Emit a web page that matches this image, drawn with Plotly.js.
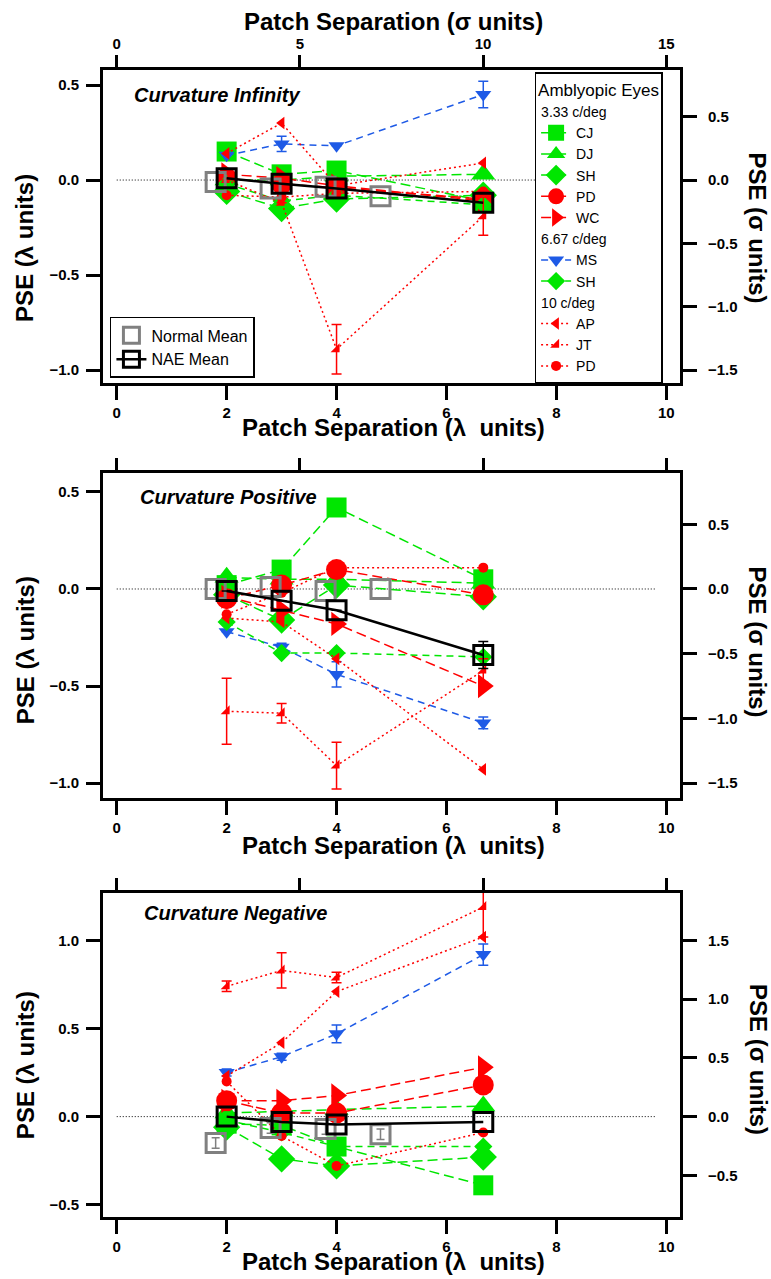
<!DOCTYPE html>
<html><head><meta charset="utf-8">
<script src="https://cdn.plot.ly/plotly-3.0.1.min.js"></script>
<style>body{margin:0;background:#fff}#chart{width:771px;height:1279px}</style>
</head><body><div id="chart"></div>
<script>
// ---------- data (PSE in lambda units) ----------
const X_AE = [2, 3, 4, 6.67];          // amblyopic / NAE patch separations (lambda)
const X_NORM = [1.8, 2.8, 3.8, 4.8];   // normal-observer separations (lambda)
const LAMBDA_TICKS = [0, 2, 4, 6, 8, 10];
const SIGMA_TICKS = [0, 5, 10, 15];
const ZERO_X = [0, 9.8];
const ZERO_Y = [0, 0];
const PANEL_TITLES = ['Curvature Infinity', 'Curvature Positive', 'Curvature Negative'];

// Curvature Infinity
const inf_CJ  = [0.15, 0.03, 0.05, -0.11];
const inf_DJ  = [0.0, 0.0, 0.02, 0.03];
const inf_SH  = [-0.06, -0.15, -0.10, -0.08];
const inf_PD  = [0.01, -0.02, -0.04, -0.10];
const inf_WC  = [0.03, 0.01, -0.03, -0.11];
const inf_MS  = [0.13, 0.19, 0.18, 0.45];
const inf_SH2 = [-0.02, -0.11, -0.08, -0.13];
const inf_AP  = [0.14, 0.30, -0.03, 0.09];
const inf_JT  = [0.0, -0.12, -0.89, -0.19];
const inf_PD2 = [-0.08, -0.09, -0.07, -0.06];
const inf_norm = [-0.01, -0.045, -0.035, -0.085];
const inf_nae  = [0.01, -0.02, -0.045, -0.12];
const inf_MS_err = [0, 0.04, 0, 0.07];
const inf_JT_err = [0, 0, 0.13, 0.1];

// Curvature Positive
const pos_CJ  = [0.02, 0.10, 0.42, 0.05];
const pos_DJ  = [0.06, 0.05, 0.05, 0.03];
const pos_SH  = [-0.03, -0.16, 0.02, -0.04];
const pos_PD  = [-0.05, 0.02, 0.10, -0.03];
const pos_WC  = [-0.04, -0.11, -0.18, -0.50];
const pos_MS  = [-0.22, -0.30, -0.44, -0.69];
const pos_SH2 = [-0.17, -0.33, -0.33, -0.35];
const pos_AP  = [-0.15, -0.17, -0.36, -0.93];
const pos_JT  = [-0.63, -0.64, -0.91, -0.42];
const pos_PD2 = [-0.13, -0.02, 0.11, 0.11];
const pos_norm = [0.0, 0.01, -0.01, 0.0];
const pos_nae  = [-0.01, -0.06, -0.11, -0.34];
const pos_MS_err = [0, 0.02, 0.065, 0.03];
const pos_JT_err = [0.17, 0.05, 0.12, 0.06];
const pos_nae_err = [0, 0, 0, 0.07];

// Curvature Negative
const neg_CJ  = [-0.04, -0.05, -0.17, -0.39];
const neg_DJ  = [0.02, 0.03, 0.04, 0.06];
const neg_SH  = [-0.06, -0.24, -0.28, -0.23];
const neg_PD  = [0.09, 0.02, 0.02, 0.18];
const neg_WC  = [0.09, 0.09, 0.12, 0.28];
const neg_MS  = [0.25, 0.34, 0.47, 0.92];
const neg_SH2 = [-0.02, -0.09, -0.17, -0.17];
const neg_AP  = [0.23, 0.42, 0.71, 1.02];
const neg_JT  = [0.74, 0.83, 0.79, 1.19];
const neg_PD2 = [0.20, -0.11, -0.28, -0.09];
const neg_norm = [-0.15, -0.065, -0.07, -0.10];
const neg_nae  = [0.0, -0.03, -0.045, -0.03];
const neg_MS_err = [0.02, 0.02, 0.05, 0.06];
const neg_JT_err = [0.03, 0.1, 0.03, 0.17];
const neg_norm_err = [0.03, 0.03, 0.03, 0.03];

// ---------- styling ----------
const FONT = 'Liberation Sans, Arial, Helvetica, sans-serif';
const GREEN = '#00e600', RED = '#ff0000', BLUE = '#1e5ae6', GRAY = '#808080';
const D1 = '10px,5px', D2 = '7px,5px', D3 = '2px,3px';
const GROUPS = {g1: '3.33 c/deg', g2: '6.67 c/deg', g3: '10 c/deg'};
const SERIES = [
  {key: 'CJ',  name: 'CJ', grp: 'g1', sym: 'square',         size: 20, color: GREEN, dash: D1},
  {key: 'DJ',  name: 'DJ', grp: 'g1', sym: 'triangle-up',    size: 21, color: GREEN, dash: D1},
  {key: 'SH',  name: 'SH', grp: 'g1', sym: 'diamond',        size: 21, color: GREEN, dash: D1},
  {key: 'PD',  name: 'PD', grp: 'g1', sym: 'circle',         size: 21, color: RED,   dash: D1},
  {key: 'WC',  name: 'WC', grp: 'g1', sym: 'triangle-right', size: 21, color: RED,   dash: D1},
  {key: 'MS',  name: 'MS', grp: 'g2', sym: 'triangle-down',  size: 14, color: BLUE,  dash: D2},
  {key: 'SH2', name: 'SH', grp: 'g2', sym: 'diamond',        size: 14, color: GREEN, dash: D2},
  {key: 'AP',  name: 'AP', grp: 'g3', sym: 'triangle-left',  size: 11, color: RED,   dash: D3},
  {key: 'JT',  name: 'JT', grp: 'g3', sym: 'triangle-se',    size: 10, color: RED,   dash: D3},
  {key: 'PD2', name: 'PD', grp: 'g3', sym: 'circle',         size: 10, color: RED,   dash: D3}
];
const PANEL_DATA = [
  {CJ: inf_CJ, DJ: inf_DJ, SH: inf_SH, PD: inf_PD, WC: inf_WC, MS: inf_MS, SH2: inf_SH2, AP: inf_AP, JT: inf_JT, PD2: inf_PD2,
   norm: inf_norm, nae: inf_nae, err: {MS: inf_MS_err, JT: inf_JT_err}},
  {CJ: pos_CJ, DJ: pos_DJ, SH: pos_SH, PD: pos_PD, WC: pos_WC, MS: pos_MS, SH2: pos_SH2, AP: pos_AP, JT: pos_JT, PD2: pos_PD2,
   norm: pos_norm, nae: pos_nae, err: {MS: pos_MS_err, JT: pos_JT_err, nae: pos_nae_err}},
  {CJ: neg_CJ, DJ: neg_DJ, SH: neg_SH, PD: neg_PD, WC: neg_WC, MS: neg_MS, SH2: neg_SH2, AP: neg_AP, JT: neg_JT, PD2: neg_PD2,
   norm: neg_norm, nae: neg_nae, err: {MS: neg_MS_err, JT: neg_JT_err, norm: neg_norm_err}}
];
const Y_RANGES = [[-1.068, 0.579], [-1.077, 0.598], [-0.57, 1.27]];
const DOMAINS = [[0.7271, 1.0], [0.3653, 0.6487], [0.0, 0.2825]];
const LAMBDA_RANGE = [-0.25, 10.25];
const SIGMA_PER_LAMBDA = 1.5;

const TF = {family: FONT, size: 15, color: '#000', weight: 'bold'};
const layout = {
  width: 771, height: 1279,
  margin: {l: 103, r: 91, t: 70, b: 62},
  paper_bgcolor: '#fff', plot_bgcolor: '#fff',
  font: {family: FONT, color: '#000'},
  showlegend: true,
  legend: {x: 0.012, y: 0.7847, xanchor: 'left', yanchor: 'top', bordercolor: '#000', borderwidth: 1.5,
           bgcolor: '#fff', font: {family: FONT, size: 16, color: '#000'}, itemwidth: 30, tracegroupgap: 0},
  legend2: {x: 0.748, y: 0.998, xanchor: 'left', yanchor: 'top', bordercolor: '#000', borderwidth: 1.5,
            bgcolor: '#fff', font: {family: FONT, size: 14, color: '#000'}, itemwidth: 30, tracegroupgap: 0,
            traceorder: 'grouped', title: {text: 'Amblyopic Eyes', font: {family: FONT, size: 17}}},
  annotations: []
};

const traces = [];
function ids(p) {
  const i = 2 * p + 1;
  return {
    xb: i === 1 ? 'xaxis' : 'xaxis' + i, xt: 'xaxis' + (i + 1),
    yl: i === 1 ? 'yaxis' : 'yaxis' + i, yr: 'yaxis' + (i + 1),
    x: i === 1 ? 'x' : 'x' + i, x2: 'x' + (i + 1),
    y: i === 1 ? 'y' : 'y' + i, y2: 'y' + (i + 1)
  };
}
const AX = {ticks: 'outside', ticklen: 14, tickwidth: 3, tickcolor: '#000', showline: true, linewidth: 3,
            linecolor: '#000', showgrid: false, zeroline: false, tickfont: TF, fixedrange: true};

PANEL_DATA.forEach((pd, p) => {
  const a = ids(p);
  const yr = Y_RANGES[p];
  layout[a.xb] = Object.assign({}, AX, {domain: [0, 1], anchor: a.y, range: LAMBDA_RANGE, tickmode: 'array',
    tickvals: LAMBDA_TICKS, ticklabelstandoff: 0});
  layout[a.xt] = Object.assign({}, AX, {overlaying: a.x, anchor: a.y, side: 'top', ticklen: 12,
    range: LAMBDA_RANGE.map(v => v * SIGMA_PER_LAMBDA), tickmode: 'array', tickvals: SIGMA_TICKS,
    showticklabels: p === 0, ticklabelstandoff: 0});
  layout[a.yl] = Object.assign({}, AX, {domain: DOMAINS[p], anchor: a.x, range: yr, dtick: 0.5, tick0: 0,
    tickformat: '.1f', ticklabelstandoff: 4});
  layout[a.yr] = Object.assign({}, AX, {overlaying: a.y, anchor: a.x, side: 'right',
    range: yr.map(v => v * SIGMA_PER_LAMBDA), dtick: 0.5, tick0: 0, tickformat: '.1f', ticklabelstandoff: 8});

  // placeholder trace so the sigma axes exist
  traces.push({x: [], y: [], xaxis: a.x2, yaxis: a.y2, type: 'scatter', showlegend: false, hoverinfo: 'skip'});
  // zero reference line
  traces.push({x: ZERO_X, y: ZERO_Y, xaxis: a.x, yaxis: a.y, mode: 'lines', showlegend: false,
    line: {color: '#000', width: 1, dash: '1px,2px'}, hoverinfo: 'skip'});

  const seen = {};
  SERIES.forEach(s => {
    const t = {
      x: X_AE, y: pd[s.key], xaxis: a.x, yaxis: a.y, mode: 'lines+markers', name: s.name,
      legend: 'legend2', legendgroup: s.grp, showlegend: p === 0,
      line: {color: s.color, width: 1.5, dash: s.dash},
      marker: {symbol: s.sym, size: s.size, color: s.color, line: {width: 0}}
    };
    if (p === 0 && !seen[s.grp]) { t.legendgrouptitle = {text: GROUPS[s.grp], font: {family: FONT, size: 14}}; seen[s.grp] = 1; }
    if (pd.err[s.key]) t.error_y = {type: 'data', array: pd.err[s.key], visible: true, color: s.color, thickness: 1.5, width: 5};
    traces.push(t);
  });
  const tn = {x: X_NORM, y: pd.norm, xaxis: a.x, yaxis: a.y, mode: 'markers', name: 'Normal Mean',
    legend: 'legend', legendgroup: 'norm', showlegend: p === 0,
    marker: {symbol: 'square-open', size: 19, color: GRAY, line: {width: 3, color: GRAY}}};
  if (pd.err.norm) tn.error_y = {type: 'data', array: pd.err.norm, visible: true, color: GRAY, thickness: 1.5, width: 4};
  traces.push(tn);
  const ta = {x: X_AE, y: pd.nae, xaxis: a.x, yaxis: a.y, mode: 'lines+markers', name: 'NAE Mean',
    legend: 'legend', legendgroup: 'nae', showlegend: p === 0,
    line: {color: '#000', width: 2.5},
    marker: {symbol: 'square-open', size: 19, color: '#000', line: {width: 3, color: '#000'}}};
  if (pd.err.nae) ta.error_y = {type: 'data', array: pd.err.nae, visible: true, color: '#000', thickness: 1.5, width: 5};
  traces.push(ta);
});

// ---------- text ----------
const TITLE_FONT = {family: FONT, size: 24, color: '#000', weight: 'bold'};
const ann = layout.annotations;
ann.push({xref: 'paper', yref: 'paper', x: 0.5035, y: 1.0419, text: 'Patch Separation (σ units)', showarrow: false,
  font: TITLE_FONT, xanchor: 'center', yanchor: 'middle'});
const BOTTOM_TITLE_Y = [0.6879, 0.3243, -0.0392];
const LEFT_TITLE_Y = [0.845, 0.4943, 0.1325];
const RIGHT_TITLE_Y = [0.862, 0.501, 0.137];
const CURV_POS = [[0.05, 0.978], [0.061, 0.6277], [0.068, 0.265]];
for (let p = 0; p < 3; p++) {
  ann.push({xref: 'paper', yref: 'paper', x: 0.5035, y: BOTTOM_TITLE_Y[p], text: 'Patch Separation (λ\u00a0 units)',
    showarrow: false, font: TITLE_FONT, xanchor: 'center', yanchor: 'middle'});
  ann.push({xref: 'paper', yref: 'paper', x: -0.135, y: LEFT_TITLE_Y[p], text: 'PSE (λ units)', textangle: -90,
    showarrow: false, font: TITLE_FONT, xanchor: 'center', yanchor: 'middle'});
  ann.push({xref: 'paper', yref: 'paper', x: 1.135, y: RIGHT_TITLE_Y[p], text: 'PSE (σ units)', textangle: 90,
    showarrow: false, font: TITLE_FONT, xanchor: 'center', yanchor: 'middle'});
  ann.push({xref: 'paper', yref: 'paper', x: CURV_POS[p][0], y: CURV_POS[p][1], text: '<b><i>' + PANEL_TITLES[p] + '</i></b>',
    showarrow: false, font: {family: FONT, size: 20, color: '#000'}, xanchor: 'left', yanchor: 'middle'});
}

Plotly.newPlot('chart', traces, layout, {staticPlot: true, displayModeBar: false});
</script>
</body></html>
